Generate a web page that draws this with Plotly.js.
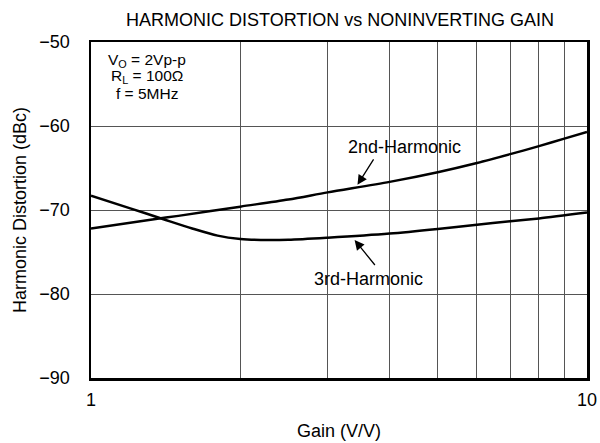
<!DOCTYPE html>
<html>
<head>
<meta charset="utf-8">
<script src="https://cdn.plot.ly/plotly-3.0.1.min.js"></script>
<style>html,body{margin:0;padding:0;background:#fff;}#chart{width:600px;height:443px;}</style>
</head>
<body>
<div id="chart"></div>
<script>
const gain2 = [1, 1.34, 1.5, 2, 2.5, 3, 4, 5, 6, 7, 8, 9, 10];
const hd2 = [-72.2, -71.1, -70.7, -69.6, -68.75, -67.9, -66.65, -65.5, -64.4, -63.35, -62.4, -61.5, -60.7];
const gain3 = [1, 1.2, 1.4, 1.6, 1.8, 2, 2.2, 2.5, 3, 4, 5, 6, 7, 8, 10];
const hd3 = [-68.3, -69.8, -71.1, -72.2, -73.05, -73.45, -73.57, -73.55, -73.3, -72.8, -72.25, -71.75, -71.35, -71.0, -70.3];
const xTickVals = [1, 2, 3, 4, 5, 6, 7, 8, 9, 10];
const xTickText = ['1', '', '', '', '', '', '', '', '', '10'];
const yTickVals = [-90, -80, -70, -60, -50];
const conditions = ['V<sub>O</sub> = 2Vp-p', 'R<sub>L</sub> = 100Ω', 'f = 5MHz'];
const labels = ['2nd-Harmonic', '3rd-Harmonic'];

const font = 'Liberation Sans, Arial, sans-serif';
const traces = [
  {x: gain2, y: hd2, mode: 'lines', line: {color: '#000', width: 2.5, shape: 'spline', smoothing: 0.8}, name: labels[0]},
  {x: gain3, y: hd3, mode: 'lines', line: {color: '#000', width: 2.5, shape: 'spline', smoothing: 0.8}, name: labels[1]}
];
const condAnn = conditions.map((t, i) => ({
  xref: 'paper', yref: 'paper', x: 0.113, y: 1 - (18 + i * 16.8) / 336,
  xanchor: 'center', yanchor: 'middle', showarrow: false, text: t, font: {size: 15.5}
}));
const arrowStyle = {showarrow: true, arrowhead: 2, arrowsize: 1.5, arrowwidth: 1.3, arrowcolor: '#000', text: '', xref: 'x', yref: 'y', standoff: 0, startstandoff: 0};
const labelAnn = [
  Object.assign({}, arrowStyle, {x: Math.log10(3.446), y: -67.0, ax: 17, ay: -27}),
  {x: Math.log10(3.446), y: -67.0, xshift: 47, yshift: 38, text: labels[0], showarrow: false, xref: 'x', yref: 'y', font: {size: 18}},
  Object.assign({}, arrowStyle, {x: Math.log10(3.40), y: -73.57, ax: 21.5, ay: 26.5}),
  {x: Math.log10(3.40), y: -73.57, xshift: 13.5, yshift: -39, text: labels[1], showarrow: false, xref: 'x', yref: 'y', font: {size: 18}}
];
const layout = {
  width: 600, height: 443,
  margin: {l: 91, r: 13, t: 42, b: 65},
  paper_bgcolor: '#fff', plot_bgcolor: '#fff',
  showlegend: false,
  font: {family: font, color: '#000', size: 18},
  title: {text: 'HARMONIC DISTORTION vs NONINVERTING GAIN', x: 340 / 600, xanchor: 'center', y: 1 - 19.5 / 443, yanchor: 'middle', font: {size: 18, family: font}},
  xaxis: {
    type: 'log', range: [0, 1], tickvals: xTickVals, ticktext: xTickText,
    showgrid: true, gridcolor: '#555', gridwidth: 1,
    showline: true, linecolor: '#000', linewidth: 2.5, mirror: true,
    ticks: '', zeroline: false, ticklabelstandoff: 4,
    tickfont: {size: 18},
    title: {text: 'Gain (V/V)', font: {size: 18}, standoff: 16}
  },
  yaxis: {
    range: [-90, -50], tickvals: yTickVals,
    showgrid: true, gridcolor: '#555', gridwidth: 1,
    showline: true, linecolor: '#000', linewidth: 2.5, mirror: true,
    ticks: '', zeroline: false, ticklabelstandoff: 15,
    tickfont: {size: 18},
    title: {text: 'Harmonic Distortion (dBc)', font: {size: 18}, standoff: 8}
  },
  annotations: condAnn.concat(labelAnn)
};
Plotly.newPlot('chart', traces, layout, {displayModeBar: false, staticPlot: true});
</script>
</body>
</html>
